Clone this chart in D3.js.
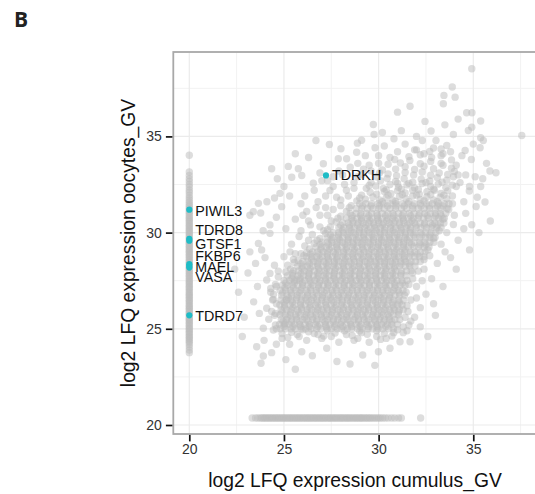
<!DOCTYPE html>
<html>
<head>
<meta charset="utf-8">
<script src="https://cdn.jsdelivr.net/npm/d3@7"></script>
<style>
  body { margin: 0; background: #fff; }
  svg { display: block; }
</style>
</head>
<body>
<svg id="chart" width="535" height="494"></svg>
<script>
// ---- data (log2 LFQ) ----

// dense body of the cloud: [oocyte value, [cumulus values...]]
const coreRows = [
  [25.0, [24.82,25.08,25.37,25.6,25.91,26.15,26.43,26.72,26.95,27.26,27.5,27.81,28.03,28.35,28.58,28.88,29.13,29.44,29.68,29.97,30.22,30.53,30.78]],
  [25.23, [24.76,25.04,25.28,25.57,25.83,26.12,26.36,26.65,26.9,27.2,27.44,27.74,27.98,28.29,28.53,28.82,29.08,29.38,29.62,29.92,30.16,30.47,30.7,31.0]],
  [25.48, [24.86,25.13,25.42,25.66,25.97,26.2,26.52,26.75,27.06,27.29,27.61,27.84,28.15,28.38,28.7,28.93,29.24,29.48,29.78,30.03,30.32,30.57,30.86,31.12]],
  [25.73, [24.79,25.07,25.33,25.62,25.87,26.17,26.41,26.71,26.96,27.25,27.5,27.79,28.05,28.33,28.6,28.88,29.15,29.41,29.7,29.95,30.25,30.49,30.8,31.04]],
  [25.99, [24.85,25.14,25.39,25.69,25.93,26.22,26.47,26.77,27.01,27.31,27.56,27.85,28.11,28.39,28.66,28.93,29.21,29.47,29.75,30.02,30.29,30.56,30.83,31.1,31.3]],
  [26.24, [24.78,25.04,25.33,25.58,25.88,26.12,26.42,26.67,26.96,27.22,27.5,27.77,28.04,28.31,28.59,28.85,29.13,29.39,29.67,29.93,30.21,30.46,30.75,31.0,31.24]],
  [26.5, [24.84,25.11,25.37,25.65,25.92,26.19,26.45,26.73,27.0,27.27,27.53,27.81,28.07,28.36,28.61,28.9,29.16,29.44,29.71,29.98,30.26,30.51,30.8,31.05,31.31]],
  [26.75, [24.88,25.16,25.41,25.7,25.95,26.25,26.5,26.79,27.04,27.33,27.59,27.87,28.13,28.41,28.68,28.95,29.23,29.49,29.77,30.03,30.31,30.57,30.86,31.11,31.37]],
  [27.01, [24.8,25.09,25.34,25.63,25.89,26.17,26.43,26.71,26.98,27.24,27.53,27.79,28.07,28.33,28.61,28.87,29.15,29.41,29.69,29.95,30.23,30.49,30.78,31.03,31.29]],
  [27.26, [24.91,25.19,25.44,25.73,25.99,26.27,26.53,26.81,27.08,27.34,27.63,27.89,28.17,28.43,28.71,28.97,29.25,29.51,29.79,30.05,30.33,30.59,30.88,31.13,31.4]],
  [27.51, [25.01,25.29,25.54,25.83,26.09,26.37,26.63,26.91,27.18,27.44,27.73,27.99,28.27,28.53,28.81,29.07,29.35,29.61,29.89,30.15,30.43,30.69,30.97,31.23,31.5]],
  [27.76, [25.19,25.48,25.74,26.03,26.29,26.57,26.83,27.11,27.38,27.64,27.93,28.19,28.47,28.73,29.01,29.27,29.55,29.81,30.09,30.35,30.63,30.89,31.17,31.45]],
  [28.01, [25.5,25.77,26.06,26.31,26.6,26.87,27.13,27.41,27.67,27.96,28.21,28.5,28.75,29.05,29.29,29.59,29.83,30.13,30.37,30.67,30.91,31.21,31.47,31.72]],
  [28.26, [25.71,25.99,26.24,26.53,26.79,27.07,27.33,27.61,27.87,28.16,28.41,28.71,28.95,29.25,29.49,29.79,30.03,30.33,30.57,30.87,31.11,31.41,31.65,31.92]],
  [28.5, [26.0,26.27,26.56,26.81,27.11,27.35,27.65,27.89,28.19,28.44,28.73,28.99,29.27,29.55,29.79,30.09,30.33,30.63,30.87,31.17,31.41,31.71,31.95,32.2]],
  [28.75, [26.2,26.49,26.74,27.03,27.29,27.57,27.83,28.11,28.37,28.66,28.91,29.21,29.45,29.75,29.99,30.29,30.53,30.83,31.07,31.37,31.61,31.91,32.17,32.4]],
  [29.0, [26.51,26.77,27.06,27.31,27.61,27.85,28.15,28.39,28.69,28.94,29.23,29.49,29.77,30.05,30.29,30.59,30.83,31.13,31.37,31.67,31.91,32.21,32.45]],
  [29.25, [26.7,26.99,27.24,27.53,27.79,28.07,28.33,28.61,28.87,29.16,29.41,29.71,29.95,30.25,30.49,30.79,31.03,31.33,31.57,31.87,32.11,32.41,32.66]],
  [29.5, [27.0,27.29,27.54,27.83,28.09,28.37,28.63,28.91,29.17,29.46,29.71,30.01,30.25,30.55,30.79,31.09,31.33,31.63,31.87,32.17,32.41,32.71,32.92]],
  [29.75, [27.3,27.57,27.86,28.11,28.41,28.65,28.95,29.19,29.49,29.74,30.03,30.29,30.57,30.85,31.09,31.39,31.63,31.93,32.17,32.47,32.71,32.98]],
  [30.0, [27.6,27.89,28.14,28.43,28.69,28.97,29.23,29.51,29.77,30.06,30.31,30.61,30.85,31.15,31.39,31.69,31.93,32.23,32.47,32.77,33.02]],
  [30.25, [27.9,28.17,28.46,28.71,29.01,29.25,29.55,29.79,30.09,30.34,30.63,30.89,31.17,31.45,31.69,31.99,32.23,32.53,32.77,33.07,33.3]],
  [30.5, [28.1,28.39,28.64,28.93,29.19,29.47,29.73,30.01,30.27,30.56,30.81,31.11,31.35,31.65,31.89,32.19,32.43,32.73,32.97,33.27,33.45]],
  [30.75, [28.3,28.57,28.86,29.11,29.41,29.65,29.95,30.19,30.49,30.74,31.03,31.29,31.57,31.85,32.09,32.39,32.63,32.93,33.17,33.47]],
  [31.0, [28.5,28.81,29.07,29.37,29.63,29.91,30.19,30.49,30.75,31.05,31.31,31.61,31.87,32.17,32.43,32.73,32.99,33.26,33.55]],
  [31.25, [28.82,29.1,29.41,29.69,30.01,30.29,30.61,30.89,31.21,31.49,31.81,32.09,32.41,32.69,33.01,33.29,33.62]],
  [31.5, [29.0,29.33,29.63,29.97,30.27,30.61,30.91,31.25,31.55,31.89,32.19,32.53,32.83,33.17,33.47,33.72]]
]

// extra overlap where the cloud is darkest
const darkRows = [
  [25.12, [25.0,25.47,25.88,26.33,26.79,27.22,27.68,28.11,28.57,29.02,29.46,29.91,30.38]],
  [25.61, [25.21,25.64,26.1,26.52,26.99,27.41,27.88,28.3,28.77,29.19,29.66,30.08,30.55]],
  [26.11, [25.03,25.48,25.92,26.37,26.81,27.26,27.7,28.15,28.59,29.04,29.48,29.93,30.37,30.8]],
  [26.62, [25.24,25.67,26.13,26.56,27.02,27.45,27.91,28.34,28.8,29.23,29.69,30.12,30.58]],
  [27.13, [25.06,25.51,25.95,26.4,26.84,27.29,27.73,28.18,28.62,29.07,29.51,29.96,30.4,30.85]],
  [27.63, [25.42,25.86,26.31,26.75,27.2,27.64,28.09,28.53,28.98,29.42,29.87,30.31,30.76]],
  [28.13, [25.95,26.38,26.84,27.27,27.73,28.16,28.62,29.05,29.51,29.94,30.4,30.83]],
  [28.63, [26.46,26.9,27.35,27.79,28.24,28.68,29.13,29.57,30.02,30.46,30.91,31.35]],
  [29.13, [26.95,27.4,27.84,28.29,28.73,29.18,29.62,30.07,30.51,30.96,31.4]],
  [29.63, [27.5,27.94,28.39,28.83,29.28,29.72,30.17,30.61,31.06,31.5]],
  [30.13, [28.1,28.54,28.99,29.43,29.88,30.32,30.77,31.21,31.66]],
  [30.63, [28.65,29.09,29.54,29.98,30.43,30.87,31.32,31.76]],
  [25.37, [24.95,25.4,25.83,26.28,26.72,27.17,27.6,28.05,28.5,28.93,29.38,29.82,30.27,30.7]],
  [25.86, [24.9,25.35,25.78,26.22,26.66,27.1,27.55,27.98,28.42,28.87,29.3,29.75,30.18,30.63,31.05]],
  [26.37, [25.0,25.44,25.88,26.31,26.76,27.2,27.63,28.08,28.52,28.95,29.4,29.84,30.27,30.72,31.1]],
  [26.88, [24.93,25.38,25.81,26.26,26.7,27.13,27.58,28.02,28.45,28.9,29.34,29.77,30.22,30.66,31.08]],
  [27.38, [25.1,25.55,25.98,26.43,26.87,27.3,27.75,28.19,28.62,29.07,29.51,29.94,30.39,30.83,31.25]],
  [27.88, [25.45,25.9,26.33,26.78,27.22,27.65,28.1,28.54,28.97,29.42,29.86,30.29,30.74,31.18]],
  [28.38, [25.9,26.35,26.78,27.23,27.67,28.1,28.55,28.99,29.42,29.87,30.31,30.74,31.19,31.6]],
  [28.88, [26.4,26.85,27.28,27.73,28.17,28.6,29.05,29.49,29.92,30.37,30.81,31.24,31.69,32.05]],
  [29.38, [26.9,27.35,27.78,28.23,28.67,29.1,29.55,29.99,30.42,30.87,31.31,31.74,32.19,32.5]],
  [29.88, [27.45,27.9,28.33,28.78,29.22,29.65,30.1,30.54,30.97,31.42,31.86,32.29,32.7]],
  [30.38, [28.0,28.45,28.88,29.33,29.77,30.2,30.65,31.09,31.52,31.97,32.41,32.84,33.1]],
  [30.88, [28.6,29.05,29.48,29.93,30.37,30.8,31.25,31.69,32.12,32.57,33.0,33.3]],
  [31.38, [29.15,29.6,30.03,30.48,30.92,31.35,31.8,32.24,32.67,33.1,33.4]]
]

// upper part of the cloud: [cumulus, oocyte]
const upperPts = [
  [29.3,31.74],[29.7,31.85],[30.05,31.7],[30.4,31.82],[30.75,31.68],[31.1,31.88],[31.45,31.75],[31.8,31.9],
  [32.2,31.72],[32.55,31.86],[32.9,31.7],[33.25,31.84],[33.6,31.76],[29.55,32.1],[29.9,32.0],[30.3,32.14],
  [30.65,32.02],[31.0,32.18],[31.4,32.06],[31.8,32.2],[32.15,32.0],[32.55,32.12],[32.9,32.25],[33.3,32.04],
  [33.65,32.17],[29.85,32.42],[30.25,32.3],[30.6,32.5],[31.05,32.36],[31.5,32.48],[31.9,32.32],[32.3,32.55],
  [32.75,32.4],[33.15,32.52],[33.55,32.34],[33.9,32.47],[30.1,32.7],[30.45,32.82],[30.9,32.66],[31.35,32.8],
  [31.8,32.62],[32.25,32.78],[32.7,32.68],[33.1,32.86],[33.6,32.72],[33.95,32.9],[30.5,33.05],[30.95,32.96],
  [31.4,33.12],[31.85,33.0],[32.3,33.15],[32.75,32.98],[33.2,33.1],[33.65,33.02],[34.0,33.18],[30.9,33.3],
  [31.4,33.42],[31.9,33.28],[32.4,33.45],[32.9,33.32],[33.4,33.5],[33.85,33.35],[31.15,33.62],[31.65,33.75],
  [32.2,33.58],[32.75,33.7],[33.3,33.6],[33.85,33.78],[31.6,33.95],[32.2,34.05],[32.8,33.9],[33.4,34.1],
  [32.0,34.3],[32.7,34.22],[33.3,34.35],[30.2,31.6],[30.9,31.62],[31.6,31.6],[32.4,31.64],[33.1,31.6],
  [30.5,31.95],[31.25,31.98],[32.0,31.95],[32.75,31.98],[33.45,31.95],[30.4,32.22],[31.2,32.26],[32.1,32.24],
  [32.95,32.2],[31.6,32.56],[32.5,32.6],[33.35,32.62],[31.0,32.55]
]
// scattered proteins around the cloud: [cumulus, oocyte]
const topPts = [
  [34.92,38.52],[33.89,37.57],[33.45,37.13],[34.04,37.04],[33.42,36.7],[31.66,36.57],[31.0,36.26],
  [34.65,36.23],[34.93,36.23],[35.39,35.8],[32.45,35.78],[29.72,35.62],[29.76,35.1],[32.77,35.28],
  [34.92,35.48],[34.74,35.31],[33.95,35.1],[35.39,34.93],[37.56,35.05],[26.69,34.79],[27.4,34.58],
  [28.01,34.36],[28.88,34.65],[30.81,34.88],[32.31,34.79],[33.03,34.79],[33.6,34.53],[35.53,34.79],
  [35.36,34.41],[34.57,34.27],[28.84,34.18],[29.81,34.41],[27.87,33.84],[28.31,33.84],[27.08,33.58],
  [35.88,33.2],[36.2,33.11],[35.39,32.4],[34.79,32.16],[30.2,35.2],[31.2,35.3],[32.0,35.0],
  [33.5,35.6],[34.2,35.9],[35.0,34.6]
]
const upperRightPts = [
  [34.3,32.6],[34.6,33.0],[34.1,33.5],[34.9,33.8],[35.1,32.9],[34.4,34.0],[33.8,34.2],[33.3,34.0],
  [32.9,34.4],[32.4,34.1],[31.9,34.3],[31.4,34.6],[31.0,34.2],[30.6,33.9],[30.3,34.5],[30.0,33.6],
  [29.6,33.2],[29.3,34.0],[28.9,33.6],[29.1,34.8],[35.7,33.6],[34.8,32.4],[34.5,31.6],[35.5,32.8]
]
const leftPts = [
  [24.35,33.32],[24.65,32.8],[25.23,33.44],[25.41,32.88],[25.76,33.32],[25.94,32.97],[26.55,32.57],
  [27.43,32.19],[27.78,31.84],[24.88,31.35],[23.77,31.02],[23.2,30.9],[23.38,31.09],[23.65,31.52],
  [24.79,32.04],[24.26,30.4],[24.26,29.96],[23.65,29.44],[23.82,29.1],[25.32,29.0],[25.1,30.2],
  [25.6,30.7],[25.9,31.5],[26.2,31.1],[26.4,30.4],[26.8,31.6],[26.9,30.9],[27.2,31.3],[27.5,30.6],
  [27.1,30.1],[26.3,29.6],[25.8,29.8],[25.5,28.6],[25.9,28.9],[26.1,31.9],[26.6,32.2],[27.0,32.7],
  [27.6,32.9],[27.9,33.2],[28.2,32.5],[28.0,31.4],[28.4,31.9],[28.7,32.3],[28.9,32.9],[29.2,33.3],
  [24.5,31.8],[24.1,31.6],[23.9,30.1],[24.6,30.8],[25.3,31.9],[25.0,32.4],[26.9,33.1],[26.3,33.9],
  [25.6,34.1],[24.09,27.54],[25.67,27.54],[25.14,26.5],[25.06,25.29],[24.44,24.94],[23.91,25.03],
  [24.09,26.07],[24.44,26.53],[24.26,27.88],[23.6,27.2],[23.4,26.4],[23.1,27.9],[22.6,26.9],
  [22.9,25.6],[23.7,25.8],[24.2,25.5],[24.5,28.3],[24.0,28.7],[23.5,28.4],[24.6,27.2],[24.3,26.9],
  [22.4,28.1],[23.2,29.0],[24.55,25.8],[23.95,24.4]
]
const bottomPts = [
  [23.56,24.07],[23.91,23.59],[23.79,23.21],[24.35,23.76],[25.94,23.81],[27.26,23.99],[28.49,23.17],
  [29.16,23.64],[29.99,23.81],[30.6,23.99],[31.66,24.33],[31.13,24.33],[24.9,24.5],[25.3,24.2],
  [25.7,24.7],[26.2,24.4],[26.6,24.75],[27.0,24.5],[27.5,24.6],[27.9,24.3],[28.3,24.7],[28.7,24.4],
  [29.1,24.8],[29.5,24.3],[29.9,24.6],[30.4,24.5],[30.8,24.8],[25.1,23.4],[26.5,23.6],[27.8,23.3],
  [24.6,24.2],[31.3,24.8],[29.8,23.1],[22.8,24.6],[25.6,22.9]
]
const rightPts = [
  [33.51,29.0],[33.95,30.42],[34.92,30.41],[35.15,31.36],[35.21,31.84],[35.62,31.59],[31.6,25.2],
  [31.9,25.6],[32.2,26.1],[31.7,26.5],[32.5,26.8],[32.0,27.2],[32.8,27.6],[31.8,27.9],[32.4,28.1],
  [33.1,28.4],[32.7,28.8],[33.8,28.7],[33.3,29.4],[34.2,29.6],[33.6,30.0],[34.5,30.2],[34.0,30.9],
  [34.6,31.0],[33.9,31.5],[32.9,26.3],[33.4,27.2],[32.2,25.1],[33.0,25.7],[34.1,28.1],[34.8,29.1],
  [35.3,30.0],[31.5,24.9],[32.6,24.6],[35.9,30.6]
]
// proteins along the edges of the dense body
const edgePts = [
  [24.7,28.0],[25.2,28.3],[25.0,28.75],[25.6,28.9],[25.4,29.4],[26.1,29.3],[25.9,30.1],[26.5,29.9],
  [26.3,30.6],[26.9,30.3],[26.7,31.3],[27.3,30.9],[27.2,31.9],[27.6,31.2],[27.6,32.4],[28.0,31.7],
  [28.1,33.0],[28.3,32.2],[28.7,32.6],[29.1,33.0],[29.5,33.5],[30.0,34.0],[28.5,33.4],[27.3,32.7],
  [26.0,30.9],[24.9,24.75],[25.4,24.82],[25.8,24.6],[26.3,24.85],[26.8,24.7],[27.3,24.9],[27.7,24.78],
  [28.2,24.9],[28.6,24.65],[29.0,24.88],[29.4,24.72],[29.9,24.9],[30.3,24.75],[30.7,24.62],[31.0,24.95],
  [25.2,24.55],[26.0,24.95],[27.1,24.62],[28.9,24.5],[30.1,24.45],[24.55,25.2],[24.5,25.7],[24.6,26.3],
  [24.45,26.8],[24.55,27.3],[24.7,27.7],[24.35,25.9],[24.3,27.1],[24.6,25.0],[24.4,26.5],[31.3,25.1],
  [31.4,25.6],[31.5,26.2],[31.45,26.9],[31.6,27.3],[31.8,27.6],[31.55,25.9],[32.1,28.0],[32.4,28.6],
  [32.6,29.1],[32.9,29.7],[33.2,30.1],[33.4,30.7],[33.7,31.2],[33.9,31.9],[34.1,32.4],[34.2,33.0],
  [31.7,25.4],[32.0,26.6],[32.3,27.5],
  [25.35,28.1],[25.75,28.55],[26.05,28.8],[26.35,29.15],[26.6,29.45],[26.9,29.7],[27.2,29.95],[27.45,30.3],
  [27.75,30.55],[28.0,30.85],[28.3,31.1],[28.55,31.4],[28.85,31.65],[29.1,31.95],[29.35,32.3],[29.6,32.6],
  [29.9,32.9],[30.2,33.25],[30.5,33.55],[30.85,33.8],[25.1,27.95],[25.55,28.45],[26.2,28.95],[26.75,29.6],
  [27.3,30.15],[27.85,30.75],[28.45,31.3],[29.0,31.8],[29.5,32.45],[30.05,33.1]
]

// only quantified in oocytes (cumulus value imputed at 20)
const oocyteOnly = [
  23.76,23.9,24.05,24.18,24.3,24.38,24.47,24.55,24.62,24.7,24.79,24.86,24.95,25.02,25.1,25.19,25.27,
  25.34,25.43,25.5,25.58,25.67,25.75,25.82,25.9,25.99,26.07,26.15,26.22,26.31,26.4,26.47,26.55,26.64,
  26.72,26.8,26.87,26.96,27.05,27.13,27.2,27.29,27.38,27.45,27.53,27.62,27.7,27.78,27.87,27.95,28.03,
  28.12,28.2,28.28,28.37,28.45,28.52,28.61,28.7,28.78,28.86,28.95,29.03,29.11,29.2,29.28,29.36,29.45,
  29.53,29.61,29.7,29.78,29.87,29.95,30.03,30.12,30.2,30.29,30.37,30.46,30.55,30.63,30.72,30.8,30.9,
  31.0,31.08,31.18,31.27,31.37,31.46,31.58,31.7,31.82,31.95,32.1,32.22,32.37,32.5,32.66,32.8,32.97,
  33.15,34.02
]
// only quantified in cumulus (oocyte value imputed)
const cumulusOnly = [
  23.32,23.5,23.62,23.74,23.83,23.9,23.98,24.05,24.12,24.2,24.27,24.35,24.42,24.5,24.57,24.65,24.72,
  24.8,24.87,24.95,25.02,25.1,25.17,25.25,25.32,25.4,25.47,25.55,25.62,25.7,25.77,25.85,25.92,26.0,
  26.08,26.15,26.23,26.3,26.38,26.45,26.53,26.6,26.68,26.75,26.83,26.9,26.98,27.05,27.13,27.2,27.28,
  27.36,27.43,27.5,27.58,27.66,27.73,27.8,27.88,27.96,28.03,28.1,28.18,28.26,28.33,28.41,28.48,28.56,
  28.64,28.72,28.8,28.87,28.95,29.03,29.1,29.18,29.27,29.35,29.43,29.52,29.6,29.7,29.8,29.9,30.0,
  30.1,30.22,30.35,30.5,30.68,30.85,31.05,31.2,32.22
]
const imputedCumulus = 20.0
const imputedOocyte = 20.36

// germline genes highlighted
const geneNames = ['PIWIL3', 'TDRD8', 'GTSF1', 'FKBP6', 'MAEL', 'VASA', 'TDRD7', 'TDRKH']
const geneCumulus = [20, 20, 20, 20, 20, 20, 20, 27.22]
const geneOocyte = [31.19, 29.68, 29.58, 28.36, 28.27, 28.18, 25.7, 32.97]

const xTicks = [20, 25, 30, 35]
const yTicks = [20, 25, 30, 35]
const xMinor = [22.5, 27.5, 32.5, 37.5]
const yMinor = [22.5, 27.5, 32.5, 37.5]

// ---- layout ----
const panel = { left: 173.3, top: 52, right: 536.7, bottom: 434 }
const font = "'Liberation Sans', Arial, sans-serif"
// label baseline offsets (repel-style nudges), in px from the point
const labelDy = [6, -3.5, 8.5, -3, 6, 14, 6, 5]

const svg = d3.select('#chart')

const x = d3.scaleLinear().domain([19.155, 38.35]).range([panel.left, panel.right])
const y = d3.scaleLinear().domain([19.532, 39.387]).range([panel.bottom, panel.top])

svg.append('defs').append('clipPath').attr('id', 'clip')
  .append('rect')
  .attr('x', panel.left).attr('y', panel.top)
  .attr('width', panel.right - panel.left).attr('height', panel.bottom - panel.top)

// grid
const grid = svg.append('g')
grid.selectAll('.vmin').data(xMinor).enter().append('line')
  .attr('x1', d => x(d)).attr('x2', d => x(d))
  .attr('y1', panel.top).attr('y2', panel.bottom)
  .attr('stroke', '#f2f2f2').attr('stroke-width', 1)
grid.selectAll('.hmin').data(yMinor).enter().append('line')
  .attr('y1', d => y(d)).attr('y2', d => y(d))
  .attr('x1', panel.left).attr('x2', panel.right)
  .attr('stroke', '#f2f2f2').attr('stroke-width', 1)
grid.selectAll('.vmaj').data(xTicks).enter().append('line')
  .attr('x1', d => x(d)).attr('x2', d => x(d))
  .attr('y1', panel.top).attr('y2', panel.bottom)
  .attr('stroke', '#ebebeb').attr('stroke-width', 1.2)
grid.selectAll('.hmaj').data(yTicks).enter().append('line')
  .attr('y1', d => y(d)).attr('y2', d => y(d))
  .attr('x1', panel.left).attr('x2', panel.right)
  .attr('stroke', '#ebebeb').attr('stroke-width', 1.2)

// all proteins
const rowsToPts = rows => rows.flatMap(([o, cs]) => cs.map(c => [c, o]))
const allPts = [].concat(
  oocyteOnly.map(o => [imputedCumulus, o]),
  cumulusOnly.map(c => [c, imputedOocyte]),
  rowsToPts(coreRows),
  rowsToPts(darkRows),
  upperPts, topPts, upperRightPts, leftPts, bottomPts, rightPts, edgePts
)

const plot = svg.append('g').attr('clip-path', 'url(#clip)')
plot.selectAll('circle.p').data(allPts).enter().append('circle')
  .attr('class', 'p')
  .attr('cx', d => x(d[0]))
  .attr('cy', d => y(d[1]))
  .attr('r', 3.7)
  .attr('fill', '#bcbcbc')
  .attr('fill-opacity', 0.5)

// highlighted genes
const genes = geneNames.map((name, i) => ({ name, c: geneCumulus[i], o: geneOocyte[i], dy: labelDy[i] }))
plot.selectAll('circle.g').data(genes).enter().append('circle')
  .attr('class', 'g')
  .attr('cx', d => x(d.c))
  .attr('cy', d => y(d.o))
  .attr('r', 3.1)
  .attr('fill', '#1fbcc6')

svg.append('g').selectAll('text').data(genes).enter().append('text')
  .attr('x', d => x(d.c) + 6)
  .attr('y', d => y(d.o) + d.dy)
  .attr('font-family', font)
  .attr('font-size', 14.3)
  .attr('fill', '#111')
  .text(d => d.name)

// panel border
svg.append('rect')
  .attr('x', panel.left).attr('y', panel.top)
  .attr('width', panel.right - panel.left).attr('height', panel.bottom - panel.top)
  .attr('fill', 'none').attr('stroke', '#a8a8a8').attr('stroke-width', 1.8)

// axes
const xAxis = svg.append('g').attr('transform', `translate(0,${panel.bottom + 0.9})`)
  .call(d3.axisBottom(x).tickValues(xTicks).tickSize(6.5).tickPadding(3).tickFormat(d3.format('d')))
const yAxis = svg.append('g').attr('transform', `translate(${panel.left - 0.9},0)`)
  .call(d3.axisLeft(y).tickValues(yTicks).tickSize(6.5).tickPadding(4).tickFormat(d3.format('d')))
;[xAxis, yAxis].forEach(a => {
  a.select('.domain').remove()
  a.selectAll('.tick line').attr('stroke', '#111').attr('stroke-width', 1.7)
  a.selectAll('.tick text').attr('font-family', font).attr('font-size', 14).attr('fill', '#333')
})

// axis titles
svg.append('text')
  .attr('x', (panel.left + panel.right) / 2).attr('y', 487)
  .attr('text-anchor', 'middle')
  .attr('font-family', font).attr('font-size', 19.3).attr('fill', '#111')
  .text('log2 LFQ expression cumulus_GV')
svg.append('text')
  .attr('transform', `translate(135,${(panel.top + panel.bottom) / 2}) rotate(-90)`)
  .attr('text-anchor', 'middle')
  .attr('font-family', font).attr('font-size', 19.3).attr('fill', '#111')
  .text('log2 LFQ expression oocytes_GV')

// panel letter
svg.append('text')
  .attr('x', 14).attr('y', 27)
  .attr('font-family', "'Open Sans', 'DejaVu Sans', sans-serif")
  .attr('font-weight', 700).attr('font-size', 21).attr('fill', '#222')
  .text('B')
</script>
</body>
</html>
